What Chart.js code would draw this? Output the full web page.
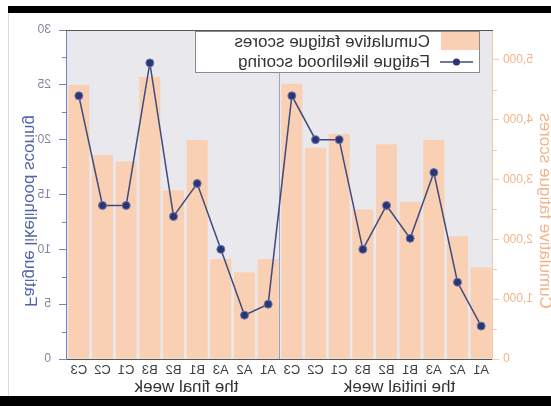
<!DOCTYPE html>
<html>
<head>
<meta charset="utf-8">
<script src="https://cdn.jsdelivr.net/npm/chart.js@4.4.1/dist/chart.umd.min.js"></script>
<style>
  html, body { margin: 0; padding: 0; background: #fff; width: 551px; height: 406px; overflow: hidden; }
  #wrap { position: absolute; left: 0; top: 0; width: 551px; height: 406px; transform: scaleX(-1); }
  .frame { position: absolute; background: #000; }
</style>
</head>
<body>
<div id="wrap"><canvas id="chart" width="551" height="406"></canvas></div>
<div class="frame" style="left:8px;top:6px;width:543px;height:7px"></div>
<div class="frame" style="left:0;top:396px;width:551px;height:10px"></div>
<div style="position:absolute;left:8px;top:13px;width:1px;height:383px;background:#dcdcdc"></div>
<script>
// Sites sampled in each week
const weekNames = ['the initial week', 'the final week'];
const sites = ['A1', 'A2', 'A3', 'B1', 'B2', 'B3', 'C1', 'C2', 'C3'];

// Cumulative fatigue scores (right-hand scale)
const cumulativeInitial = [1530, 2050, 3660, 2630, 3590, 2500, 3760, 3530, 4600];
const cumulativeFinal   = [1670, 1450, 1670, 3660, 2820, 4720, 3300, 3410, 4580];

// Fatigue likelihood scoring (left-hand scale)
const likelihoodInitial = [3, 7, 17, 11, 14, 10, 20, 20, 24];
const likelihoodFinal   = [5, 4, 10, 16, 13, 27, 14, 14, 24];

// Axis tick values
const cumulativeTicks = [0, 1000, 2000, 3000, 4000, 5000];
const likelihoodTicks = [0, 5, 10, 15, 20, 25, 30];

const seriesNames = ['Cumulative fatigue scores', 'Fatigue likelihood scoring'];
const axisTitles  = ['Cumulative fatigue scores', 'Fatigue likelihood scoring'];

const labels = sites.concat(sites);
const cumulative = cumulativeInitial.concat(cumulativeFinal);
const likelihood = likelihoodInitial.concat(likelihoodFinal);

const FONT = "'Liberation Sans', Arial, sans-serif";
const BAR_FILL = '#f9d0b3';
const LINE_COL = '#3f4b7d';
const POINT_COL = '#2b3570';
const ORANGE_AXIS = '#f4c7a5';
const ORANGE_TEXT = '#f1b58c';
const BLUE_AXIS = '#7383c0';
const BLUE_TITLE = '#5064a8';

const decor = {
  id: 'decor',
  beforeDraw(chart) {
    const { ctx, chartArea: a } = chart;
    ctx.save();
    ctx.fillStyle = '#e9e9ed';
    ctx.fillRect(a.left, a.top, a.right - a.left, a.bottom - a.top);
    ctx.restore();
  },
  beforeDatasetsDraw(chart) {
    // divider between the two weeks
    const { ctx, chartArea: a, scales } = chart;
    const x = (scales.x.getPixelForValue(sites.length - 1) + scales.x.getPixelForValue(sites.length)) / 2;
    ctx.save();
    ctx.strokeStyle = '#9aa3c0';
    ctx.lineWidth = 1;
    ctx.beginPath();
    ctx.moveTo(Math.round(x) + 0.5, a.top);
    ctx.lineTo(Math.round(x) + 0.5, a.bottom);
    ctx.stroke();
    ctx.restore();
  },
  afterDatasetsDraw(chart) {
    const { ctx, chartArea: a, scales } = chart;
    ctx.save();

    // top frame
    ctx.strokeStyle = '#555';
    ctx.lineWidth = 1;
    ctx.beginPath();
    ctx.moveTo(a.left, a.top + 0.5);
    ctx.lineTo(a.right + 1, a.top + 0.5);
    ctx.stroke();

    // minor ticks
    const yc = scales.yCum, ys = scales.yScore;
    ctx.strokeStyle = ORANGE_AXIS;
    for (let v = 500; v < yc.max; v += 1000) {
      const y = Math.round(yc.getPixelForValue(v)) + 0.5;
      ctx.beginPath(); ctx.moveTo(a.left - 4, y); ctx.lineTo(a.left, y); ctx.stroke();
    }
    ctx.strokeStyle = BLUE_AXIS;
    for (let v = 2.5; v < ys.max; v += 5) {
      const y = Math.round(ys.getPixelForValue(v)) + 0.5;
      ctx.beginPath(); ctx.moveTo(a.right, y); ctx.lineTo(a.right + 5, y); ctx.stroke();
    }

    // axis titles (both read bottom to top)
    const midY = 211;
    ctx.font = '17px ' + FONT;
    ctx.textAlign = 'center';
    ctx.textBaseline = 'middle';
    ctx.fillStyle = ORANGE_TEXT;
    ctx.save(); ctx.translate(6, midY); ctx.rotate(-Math.PI / 2); ctx.fillText(axisTitles[0], 0, 0); ctx.restore();
    ctx.fillStyle = BLUE_TITLE;
    ctx.save(); ctx.translate(521, midY); ctx.rotate(-Math.PI / 2); ctx.fillText(axisTitles[1], 0, 0); ctx.restore();

    // week group labels under the categories
    ctx.fillStyle = '#333';
    const xs = scales.x;
    weekNames.forEach((name, g) => {
      const first = xs.getPixelForValue(g * sites.length);
      const last = xs.getPixelForValue(g * sites.length + sites.length - 1);
      ctx.fillText(name, (first + last) / 2 - 13, 387);
    });

    // legend
    const ds = chart.data.datasets;
    const bx = 71, by = 31, bw = 284, bh = 41;
    ctx.fillStyle = '#fff';
    ctx.fillRect(bx, by, bw, bh);
    ctx.strokeStyle = '#8a8a8a';
    ctx.strokeRect(bx + 0.5, by + 0.5, bw, bh);
    ctx.fillStyle = ds[0].backgroundColor;
    ctx.fillRect(bx + 1, by + 1, 38, 18);
    ctx.strokeStyle = ds[1].borderColor;
    ctx.lineWidth = 1.5;
    ctx.beginPath(); ctx.moveTo(bx + 7, 62); ctx.lineTo(bx + 40, 62); ctx.stroke();
    ctx.fillStyle = ds[1].pointBackgroundColor;
    ctx.beginPath(); ctx.arc(bx + 23.5, 62, 3.5, 0, Math.PI * 2); ctx.fill();
    ctx.fillStyle = '#333';
    ctx.textAlign = 'left';
    ctx.font = '17px ' + FONT;
    ctx.fillText(ds[0].label, 121, 42);
    ctx.fillText(ds[1].label, 121, 62);

    ctx.restore();
  }
};

new Chart(document.getElementById('chart'), {
  data: {
    labels: labels,
    datasets: [
      {
        type: 'bar',
        label: seriesNames[0],
        data: cumulative,
        yAxisID: 'yCum',
        backgroundColor: BAR_FILL,
        borderWidth: 0,
        categoryPercentage: 1,
        barPercentage: 0.89,
        order: 2
      },
      {
        type: 'line',
        label: seriesNames[1],
        data: likelihood,
        yAxisID: 'yScore',
        borderColor: LINE_COL,
        borderWidth: 1.5,
        pointBackgroundColor: POINT_COL,
        pointBorderColor: '#6b7ab8',
        pointBorderWidth: 1,
        pointRadius: 4,
        tension: 0,
        order: 1
      }
    ]
  },
  options: {
    responsive: false,
    animation: false,
    layout: { padding: { top: 30, left: 0, right: 0, bottom: 0 } },
    plugins: { legend: { display: false }, tooltip: { enabled: false } },
    scales: {
      x: {
        type: 'category',
        offset: true,
        grid: { display: false, drawTicks: false },
        border: { display: true, color: '#555', width: 1 },
        ticks: { color: '#3c3c3c', font: { family: FONT, size: 13 }, padding: 4, maxRotation: 0, autoSkip: false },
        afterFit(s) { s.height = 47; }
      },
      yCum: {
        type: 'linear',
        position: 'left',
        min: 0,
        max: 5500,
        afterBuildTicks(s) { s.ticks = cumulativeTicks.map(v => ({ value: v })); },
        ticks: {
          color: ORANGE_TEXT,
          font: { family: FONT, size: 12 },
          padding: 4,
          callback: v => v.toLocaleString('en-US')
        },
        grid: { drawOnChartArea: false, drawTicks: true, tickLength: 6, color: ORANGE_AXIS },
        border: { color: ORANGE_AXIS, width: 1 },
        afterFit(s) { s.width = 58; }
      },
      yScore: {
        type: 'linear',
        position: 'right',
        min: 0,
        max: 30,
        afterBuildTicks(s) { s.ticks = likelihoodTicks.map(v => ({ value: v })); },
        ticks: { color: '#80869c', font: { family: FONT, size: 12 }, padding: 8 },
        grid: { drawOnChartArea: false, drawTicks: true, tickLength: 8, color: BLUE_AXIS },
        border: { color: BLUE_AXIS, width: 1 },
        afterFit(s) { s.width = 67; }
      }
    }
  },
  plugins: [decor]
});
</script>
</body>
</html>
